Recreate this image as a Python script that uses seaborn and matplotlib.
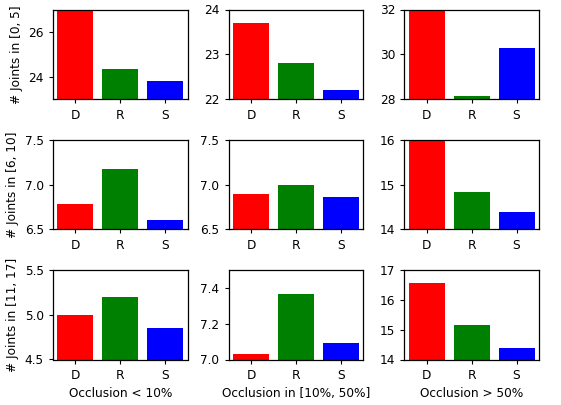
import matplotlib
matplotlib.use("Agg")
import matplotlib.pyplot as plt
import seaborn as sns
import pandas as pd

plt.rcParams["font.size"] = 8.7
plt.rcParams["xtick.major.size"] = 3.1
plt.rcParams["ytick.major.size"] = 3.1

methods = ["D", "R", "S"]
colors = ["red", "green", "blue"]
row_labels = ["# Joints in [0, 5]", "# Joints in [6, 10]", "# Joints in [11, 17]"]
col_labels = ["Occlusion < 10%", "Occlusion in [10%, 50%]", "Occlusion > 50%"]

# values[row][col] -> [D, R, S]
vals_r0c0 = [27.5, 24.37, 23.82]
vals_r0c1 = [23.71, 22.81, 22.21]
vals_r0c2 = [32.5, 28.15, 30.28]
vals_r1c0 = [6.78, 7.175, 6.61]
vals_r1c1 = [6.89, 7.00, 6.86]
vals_r1c2 = [15.96, 14.83, 14.39]
vals_r2c0 = [4.99, 5.20, 4.855]
vals_r2c1 = [7.028, 7.363, 7.092]
vals_r2c2 = [16.54, 15.15, 14.37]

ylims = [[(23, 27), (22, 24), (28, 32)],
         [(6.5, 7.5), (6.5, 7.5), (14, 16)],
         [(4.5, 5.5), (7.0, 7.5), (14, 17)]]

values = [[vals_r0c0, vals_r0c1, vals_r0c2],
          [vals_r1c0, vals_r1c1, vals_r1c2],
          [vals_r2c0, vals_r2c1, vals_r2c2]]

fig, axes = plt.subplots(3, 3, figsize=(5.61, 4.05), dpi=100)
fig.subplots_adjust(left=53/561, right=539/561, top=1-9.5/405, bottom=1-359.5/405,
                    wspace=0.304, hspace=0.445)

for r in range(3):
    for c in range(3):
        ax = axes[r][c]
        df = pd.DataFrame({"method": methods, "value": values[r][c]})
        sns.barplot(data=df, x="method", y="value", hue="method", palette=colors,
                    saturation=1, legend=False, ax=ax, width=0.8)
        ax.set_ylim(*ylims[r][c])
        ax.set_xlabel(col_labels[c] if r == 2 else "")
        ax.set_ylabel(row_labels[r] if c == 0 else "")
        for s in ax.spines.values():
            s.set_linewidth(0.9)

axes[0][0].set_yticks([24, 26])
axes[0][1].set_yticks([22, 23, 24])
axes[0][2].set_yticks([28, 30, 32])
axes[2][1].set_yticks([7.0, 7.2, 7.4])
axes[2][2].set_yticks([14, 15, 16, 17])

fig.savefig("out.png", dpi=100)
